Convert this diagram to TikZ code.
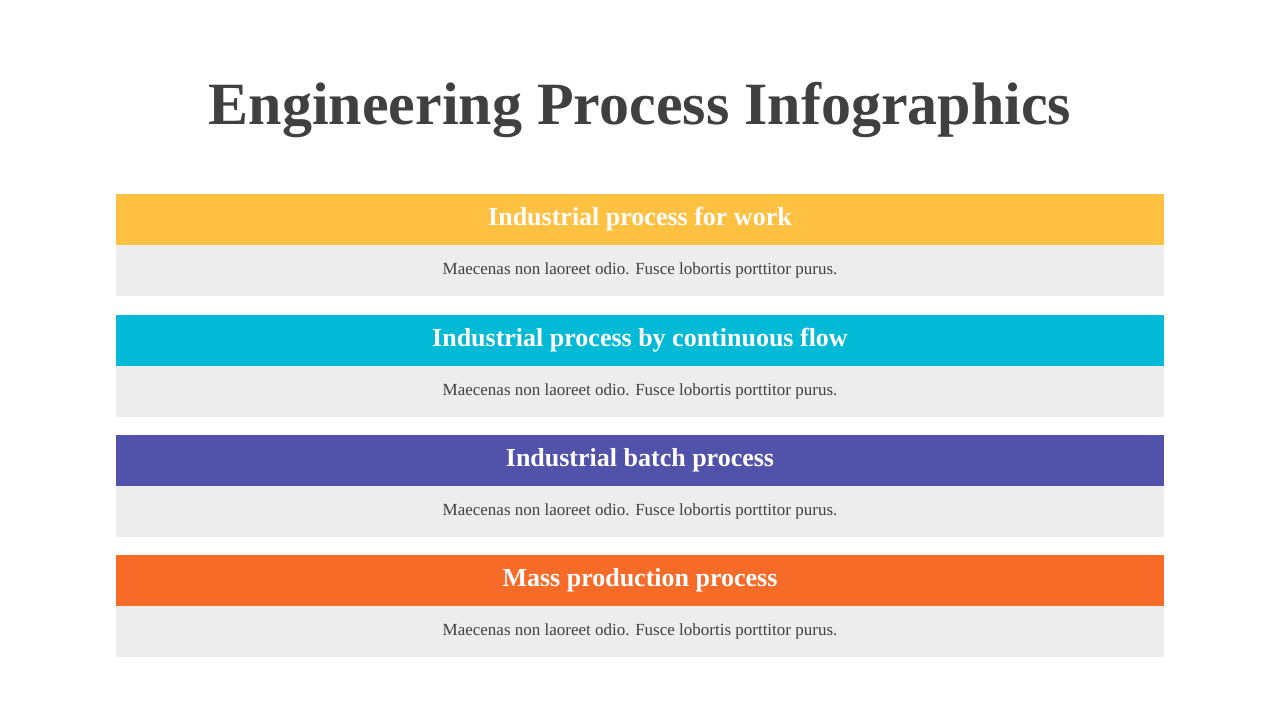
\documentclass[tikz,border=0pt]{standalone}
\usepackage{fontspec}
\setmainfont{Liberation Serif}
\definecolor{tcol}{HTML}{404040}
\definecolor{c1}{HTML}{FFC142}
\definecolor{c2}{HTML}{03BAD6}
\definecolor{c3}{HTML}{5152A9}
\definecolor{c4}{HTML}{F76B29}
\definecolor{gb}{HTML}{EDEDED}
\tikzset{
 head/.style={fill=#1,draw=none,minimum width=524pt,minimum height=25.5pt,inner sep=0,text=white,font=\bfseries\fontsize{13}{15}\selectfont},
 body/.style={fill=gb,draw=none,minimum width=524pt,minimum height=25.5pt,inner sep=0,text=tcol,font=\fontsize{8.5}{10}\selectfont}
}
\begin{document}
\begin{tikzpicture}[x=0.5pt,y=-0.5pt]
\useasboundingbox (0,0) rectangle (1280,720);
\node[text=tcol,font=\bfseries\fontsize{30}{34}\selectfont] (title) at (640,110) {Engineering Process Infographics};
\node[head=c1] (h1) at (640,219.5) {Industrial process for work};
\node[body] (b1) at (640,270.5) {Maecenas non laoreet odio. Fusce lobortis porttitor purus.};
\node[head=c2] (h2) at (640,340) {Industrial process by continuous flow};
\node[body] (b2) at (640,391.5) {Maecenas non laoreet odio. Fusce lobortis porttitor purus.};
\node[head=c3] (h3) at (640,460.5) {Industrial batch process};
\node[body] (b3) at (640,511.5) {Maecenas non laoreet odio. Fusce lobortis porttitor purus.};
\node[head=c4] (h4) at (640,580.5) {Mass production process};
\node[body] (b4) at (640,631.5) {Maecenas non laoreet odio. Fusce lobortis porttitor purus.};
\end{tikzpicture}
\end{document}
